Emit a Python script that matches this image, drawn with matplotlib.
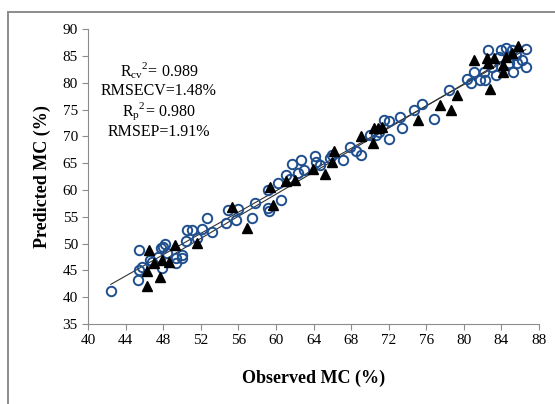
import numpy as np
import matplotlib
matplotlib.use("Agg")
import matplotlib.pyplot as plt
from matplotlib.lines import Line2D

plt.rcParams["font.family"] = ["Liberation Serif", "DejaVu Serif"]
plt.rcParams["mathtext.fontset"] = "custom"
plt.rcParams["mathtext.rm"] = "Liberation Serif"

## calibration set (open circles)
cal_obs = [42.4, 45.3, 45.4, 45.4, 45.7, 46.6, 47.4, 47.7, 48.0, 48.2, 47.9, 49.4,
           50.0, 50.0, 49.4, 50.4, 50.5, 51.1, 52.1, 52.6, 53.2, 54.7, 54.9, 55.7,
           56.0, 57.4, 57.8, 59.1, 59.3, 59.1, 60.2, 60.5, 61.1, 61.7, 62.7, 62.3,
           63.0, 64.2, 64.3, 64.7, 66.0, 67.1, 67.9, 68.5, 69.0, 70.0, 71.5, 72.0,
           72.0, 73.2, 73.4, 74.7, 75.5, 76.8, 78.4, 80.3, 80.8, 82.6, 82.1, 82.3,
           81.7, 83.4, 84.0, 84.5, 85.1, 85.2, 85.7, 86.6, 86.6, 84.8, 83.0, 85.6,
           83.8, 81.1, 86.2, 71.0, 70.6, 61.5, 65.8, 46.8, 48.4, 51.6]
cal_pred = [41.2, 43.2, 48.8, 45.1, 45.7, 47.0, 47.5, 49.1, 49.4, 50.0, 45.4, 46.3,
            47.9, 47.3, 47.3, 50.4, 52.5, 52.5, 52.8, 54.7, 52.2, 53.8, 56.2, 54.4,
            56.4, 54.7, 57.5, 60.0, 56.0, 56.6, 61.3, 58.1, 62.8, 64.9, 65.7, 63.1,
            63.7, 66.4, 65.3, 64.7, 66.5, 65.6, 68.1, 67.2, 66.5, 70.3, 73.1, 69.5,
            72.8, 73.7, 71.5, 74.9, 76.0, 73.3, 78.7, 80.7, 79.9, 86.1, 82.1, 80.5,
            80.5, 81.5, 86.1, 86.5, 86.1, 82.1, 83.7, 86.3, 83.0, 83.7, 83.0, 85.2,
            84.9, 82.1, 84.3, 70.8, 70.2, 62.0, 66.0, 46.5, 48.3, 51.0]

## prediction set (filled triangles)
val_obs = [46.5, 46.3, 46.3, 47.0, 47.6, 47.9, 48.6, 49.2, 51.6, 55.3, 56.9, 59.4,
           59.7, 61.1, 62.0, 63.9, 65.2, 66.0, 66.2, 69.1, 70.3, 70.4, 70.9, 71.3,
           75.1, 77.5, 78.6, 79.3, 81.1, 82.8, 82.5, 83.2, 82.6, 84.2, 84.2, 84.5,
           85.1, 85.8]
val_pred = [48.8, 42.0, 44.8, 46.3, 43.8, 46.9, 46.6, 49.7, 50.1, 56.9, 53.0, 60.6,
            57.2, 61.6, 61.9, 64.0, 63.0, 65.3, 67.2, 70.1, 68.7, 71.5, 71.5, 71.8,
            73.1, 75.9, 74.9, 77.7, 84.3, 78.8, 84.6, 84.6, 83.7, 82.1, 83.3, 84.9,
            85.5, 86.8]

stats_text = ["$\\mathregular{R_{cv}}^2$= 0.989", "RMSECV=1.48%",
              "$\\mathregular{R_{p}}^2$= 0.980", "RMSEP=1.91%"]

xticks = np.arange(40, 89, 4)
yticks = np.arange(35, 91, 5)

fig = plt.figure(figsize=(5.55, 4.04), dpi=100)
ax = fig.add_axes([0.159, 0.198, 0.812, 0.7295])

# outer frame (top and left edges only)
fx, fy = 8 / 555, 1 - 11.7 / 404
fig.lines.append(Line2D([fx, 1.0], [fy, fy], transform=fig.transFigure,
                        color="#8c8c8c", lw=1.4))
fig.lines.append(Line2D([fx, fx], [0, fy], transform=fig.transFigure,
                        color="#8c8c8c", lw=1.4))

# fitted lines
for xs, ys in [(cal_obs, cal_pred), (val_obs, val_pred)]:
    k, b = np.polyfit(xs, ys, 1)
    xx = np.array([min(xs), max(xs)])
    ax.plot(xx, k * xx + b, color="#333333", lw=0.8, zorder=1)

ax.plot(cal_obs, cal_pred, "o", ms=6.8, mfc="none", mec="#1f4f8f", mew=1.4, zorder=2)
ax.plot(val_obs, val_pred, "^", ms=7, color="black", zorder=3)

ax.set_xlim(40, 88)
ax.set_ylim(35, 90)
ax.set_xticks(xticks)
ax.set_yticks(yticks)
ax.tick_params(labelsize=11, length=4, color="#8c8c8c", direction="out")
for s in ["top", "right"]:
    ax.spines[s].set_visible(False)
for s in ["left", "bottom"]:
    ax.spines[s].set_color("#8c8c8c")

ax.set_xlabel("Observed MC (%)", fontsize=13, fontweight="bold", labelpad=16)
ax.set_ylabel("Predicted MC (%)", fontsize=13, fontweight="bold", labelpad=8)

for i, t in enumerate(stats_text):
    fig.text(159 / 555, 1 - (71 + 20.3 * i) / 404, t, fontsize=11.5,
             ha="center", va="center")

plt.savefig("out.png", dpi=100)
